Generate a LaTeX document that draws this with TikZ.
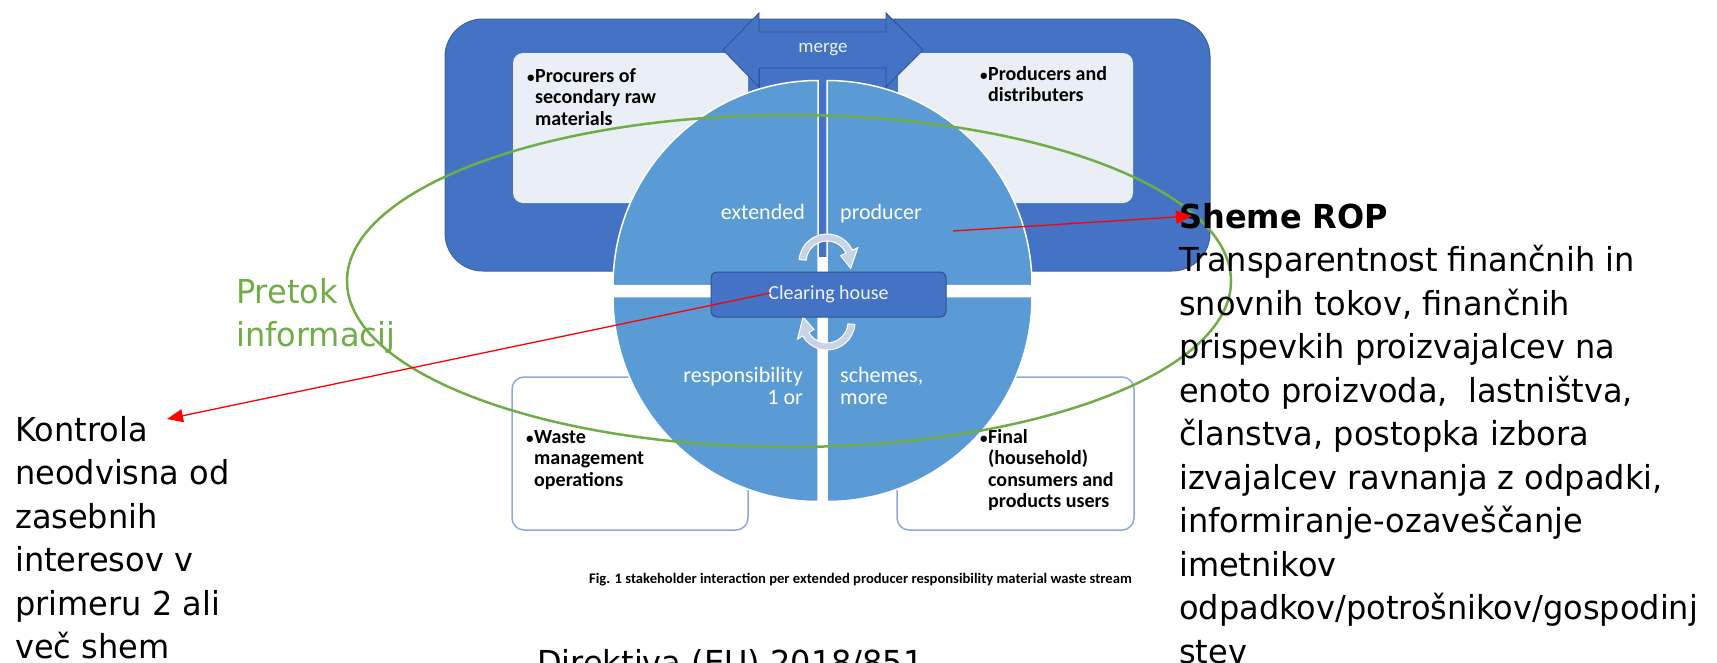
\documentclass[tikz,border=0pt]{standalone}
\usepackage{fontspec}
\usetikzlibrary{arrows.meta}
\newfontfamily\calfont{Carlito}
\newfontfamily\tahfont[FakeStretch=0.97]{DejaVu Sans}
\definecolor{dkblue}{HTML}{4472C4}
\definecolor{dkborder}{HTML}{2F528F}
\definecolor{cblue}{HTML}{5B9BD5}
\definecolor{lbox}{HTML}{EAEFF7}
\definecolor{bborder}{HTML}{8EAADB}
\definecolor{arrc}{HTML}{C9D3E8}
\definecolor{grn}{HTML}{70AD47}
\newcommand\mylines[1]{\vtop{\halign{##\hfil\cr#1\crcr}}}
\newcommand\mylinesr[1]{\vtop{\halign{\hfil##\cr#1\crcr}}}
\newcommand\mybul{\llap{{\fontsize{15}{15}\selectfont\textbullet}\kern0.5pt}}
\begin{document}
\begin{tikzpicture}[x=1pt,y=1pt,yscale=-1,
  txt/.style={inner sep=0pt, anchor=base west},
  cbold/.style={font=\calfont\bfseries\fontsize{20}{21.5}\selectfont},
  ctext/.style={font=\calfont\fontsize{22}{22.5}\selectfont, text=white, inner sep=0pt},
  big/.style={font=\tahfont\fontsize{33}{43.5}\selectfont, inner sep=0pt, anchor=base west},
  quad/.style={fill=cblue, draw=white, line width=1.5pt},
  carr/.style={fill=arrc, draw=white, line width=1pt},
  redarr/.style={red, line width=1.3pt, -{Triangle[length=16pt,width=13pt]}},
  lightbox/.style={fill=lbox, rounded corners=10pt},
  lowbox/.style={fill=white, draw=bborder, line width=1.5pt, rounded corners=12pt}
]
\useasboundingbox (0,0) rectangle (1717,662);
\fill[white] (0,0) rectangle (1717,662);
% frame
\filldraw[fill=dkblue, draw=dkblue!85!black, line width=1pt, rounded corners=38pt] (445,19) rectangle (1210,271);
\fill[lightbox] (513,53) rectangle (748,203);
\fill[lightbox] (898,53) rectangle (1133,203);
\filldraw[lowbox] (512,377) rectangle (748,530);
\filldraw[lowbox] (897,377) rectangle (1134,530);
% column and merge arrow
\filldraw[fill=dkblue, draw=dkborder, line width=0.8pt] (759,60) rectangle (886,257);
\filldraw[fill=dkblue, draw=dkborder, line width=0.8pt] (723,50) -- (759,13) -- (759,32) -- (886,32) -- (886,13) -- (923,50) -- (886,87) -- (886,68) -- (759,68) -- (759,87) -- cycle;
\node[font=\calfont\fontsize{19}{19}\selectfont, text=white!90!dkblue, inner sep=0pt] (merge) at (823,50) {merge};
\fill[white] (816,257) rectangle (829,290);
% quadrants
\filldraw[quad] (818,285.5) -- ++(180:205) arc[start angle=180,end angle=270,radius=205] -- cycle;
\filldraw[quad] (827,285.5) -- ++(270:205) arc[start angle=270,end angle=360,radius=205] -- cycle;
\filldraw[quad] (827,296.5) -- ++(0:205) arc[start angle=0,end angle=90,radius=205] -- cycle;
\filldraw[quad] (818,296.5) -- ++(90:205) arc[start angle=90,end angle=180,radius=205] -- cycle;
% circle texts
\node[ctext, anchor=base east] (ext) at (805,219) {extended};
\node[ctext, anchor=base west] (prod) at (840,219) {producer};
\node[ctext, anchor=base east] (resp) at (803,382) {\mylinesr{responsibility\cr 1 or}};
\node[ctext, anchor=base west] (sch) at (840,382) {\mylines{schemes,\cr more}};
% cycle arrows
\begin{scope}[shift={(827,262)}]
\filldraw[carr] (185:28) arc[start angle=185,end angle=335,radius=28] -- (335:34) -- (15:24.5) -- (335:15) -- (335:21) arc[start angle=335,end angle=185,radius=21] -- cycle;
\end{scope}
\begin{scope}[shift={(827,322)}]
\filldraw[carr] (5:28) arc[start angle=5,end angle=150,radius=28] -- (150:34) -- (192:24.5) -- (150:15) -- (150:21) arc[start angle=150,end angle=5,radius=21] -- cycle;
\end{scope}
% clearing house
\node[draw=dkborder, fill=dkblue, line width=1pt, rounded corners=6pt, minimum width=235pt, minimum height=45pt, inner sep=0pt, font=\calfont\fontsize{20}{20}\selectfont, text=white!92!dkblue] (ch) at (828.5,294.5) {Clearing house};
% box texts
\node[cbold, txt] (t1) at (535,82) {\mylines{\mybul Procurers of\cr secondary raw\cr materials}};
\node[cbold, txt] (t2) at (988,80) {\mylines{\mybul Producers and\cr distributers}};
\node[cbold, txt] (t3) at (534,443) {\mylines{\mybul Waste\cr management\cr operations}};
\node[cbold, txt] (t4) at (988,443) {\mylines{\mybul Final\cr (household)\cr consumers and\cr products users}};
% ellipse
\draw[grn, line width=2.5pt] (789,281) ellipse[x radius=442, y radius=166];
% outside texts
\node[big] (kontrola) at (15,441) {\mylines{Kontrola\cr neodvisna od\cr zasebnih\cr interesov v\cr primeru 2 ali\cr več shem}};
\node[big, text=grn] (pretok) at (236,303) {\mylines{Pretok\cr informacij}};
\node[big] (rop) at (1179,228) {\mylines{\textbf{Sheme ROP}\cr Transparentnost finančnih in\cr snovnih tokov, finančnih\cr prispevkih proizvajalcev na\cr enoto proizvoda, \ lastništva,\cr članstva, postopka izbora\cr izvajalcev ravnanja z odpadki,\cr informiranje-ozaveščanje\cr imetnikov\cr odpadkov/potrošnikov/gospodinj\cr stev}};
\node[font=\calfont\bfseries\fontsize{14.6}{17}\selectfont, inner sep=0pt, anchor=base] (cap) at (860.5,583) {Fig. 1 stakeholder interaction per extended producer responsibility material waste stream};
\node[big] (dir) at (537,674) {Direktiva (EU) 2018/851};
% red arrows
\coordinate (r1s) at (953,231);
\coordinate (r1e) at (1192,216);
\draw[redarr] (r1s) -- (r1e);
\coordinate (r2s) at (770,293);
\coordinate (r2e) at (167,419);
\draw[redarr] (r2s) -- (r2e);
\end{tikzpicture}
\end{document}
